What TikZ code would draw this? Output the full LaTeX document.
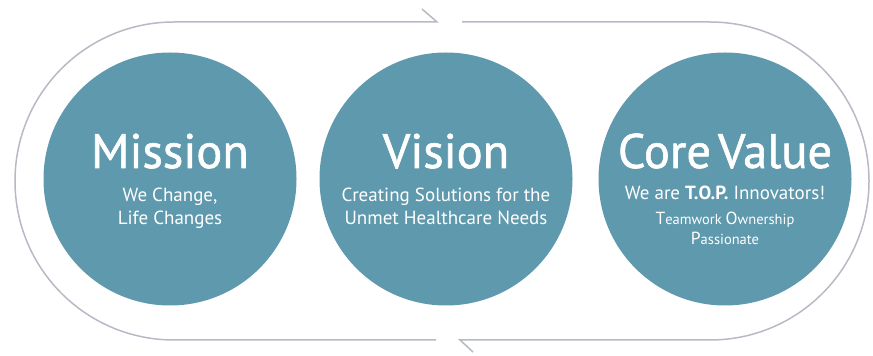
\documentclass[tikz,border=0pt]{standalone}
\usepackage{fontspec}
\setmainfont{PT Sans}
\usepackage{tikz}
\usetikzlibrary{positioning, arrows}
\definecolor{circfill}{RGB}{95,153,173}
\definecolor{loopgray}{RGB}{182,186,197}
\tikzstyle{val}=[circle, fill=circfill, minimum size=253pt, inner sep=0pt]
\tikzstyle{ttl}=[anchor=base, text=white, inner sep=0pt, font=\fontsize{48.5}{50}\selectfont\addfontfeature{FakeBold=1.2}]
\tikzstyle{sub}=[anchor=base, text=white, inner sep=0pt, font=\fontsize{19}{23}\selectfont]
\tikzstyle{small}=[anchor=base, text=white, inner sep=0pt, font=\fontsize{14.5}{20}\selectfont]
\newcommand{\bigini}[1]{{\fontsize{17.5}{20}\selectfont #1}}

\begin{document}
\begin{tikzpicture}[x=1pt, y=1pt, node distance=277pt]
                    \useasboundingbox (0,0) rectangle (873,356);
                    % the three circles
                    \node [val] (mission) at (170,177) {};
                    \node [val, right of=mission, node distance=276pt] (vision) {};
                    \node [val, right of=vision, node distance=279pt] (core) {};
                    % texts
                    \node [ttl] (missiont) at ([yshift=11pt]mission.center) {Mission};
                    \node [sub] (missions1) at ([yshift=-23pt]mission.center) {We Change,};
                    \node [sub] (missions2) at ([yshift=-46pt]mission.center) {Life Changes};
                    \node [ttl] (visiont) at ([yshift=11pt]vision.center) {Vision};
                    \node [sub] (visions1) at ([yshift=-23pt]vision.center) {Creating Solutions for the};
                    \node [sub] (visions2) at ([yshift=-46pt]vision.center) {Unmet Healthcare Needs};
                    \node [ttl] (coret) at ([yshift=11pt]core.center) {Core\hspace{7pt}Value};
                    \node [sub] (cores1) at ([yshift=-21pt]core.center) {We are \textbf{T.O.P.} Innovators!};
                    \node [small] (cores2) at ([yshift=-46pt]core.center) {\bigini{T}eamwork \bigini{O}wnership};
                    \node [small] (cores3) at ([yshift=-66pt]core.center) {\bigini{P}assionate};
                    % loop
                    \coordinate (topin) at (437,334);
                    \coordinate (topout) at (462,334);
                    \coordinate (botin) at (460,16);
                    \coordinate (botout) at (436,16);
                    \draw [loopgray, line width=1.5pt] (topout) -- (710,334) arc (90:-90:159) -- (botin) -- (473,4);
                    \draw [loopgray, line width=1.5pt] (botout) -- (174,16) arc (-90:-270:159) -- (topin) -- (422,347);
                \end{tikzpicture}
\end{document}
